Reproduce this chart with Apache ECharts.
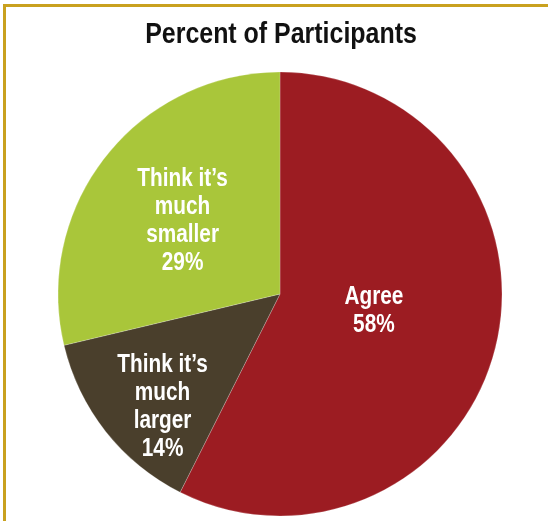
<!DOCTYPE html>
<html>
<head>
<meta charset="utf-8">
<script src="https://cdn.jsdelivr.net/npm/echarts@6/dist/echarts.min.js"></script>
<style>
  html, body { margin: 0; padding: 0; background: #fff; }
  #chart { width: 548px; height: 521px; }
</style>
</head>
<body>
<div id="chart"></div>
<script>
const categories = ['Agree', 'Think it\u2019s\nmuch\nlarger', 'Think it\u2019s\nmuch\nsmaller'];
const values = [58, 14, 29];
const colors = ['#9C1C22', '#4A3F2C', '#A9C63A'];

// nudge labels off the default mid-radius spot
const labelShift = [[-17, -10], [-28, 42], [-8, -2]];

const fontFamily = '"Liberation Sans", Arial, sans-serif';
const titleText = 'Percent of Participants';

const chart = echarts.init(document.getElementById('chart'));

chart.setOption({
  animation: false,
  title: {
    text: titleText,
    left: 276,
    textAlign: 'center',
    top: 15,
    textStyle: {
      fontFamily,
      fontWeight: 'bold',
      fontSize: 29,
      color: '#111'
    }
  },
  graphic: [
    { type: 'line', shape: { x1: 4.5, y1: 4, x2: 4.5, y2: 521 }, style: { stroke: '#C9A11F', lineWidth: 3 } },
    { type: 'line', shape: { x1: 3, y1: 5.5, x2: 548, y2: 5.5 }, style: { stroke: '#C9A11F', lineWidth: 3 } }
  ],
  series: [
    {
      type: 'pie',
      center: [280, 294],
      radius: [0, 222],
      startAngle: 90,
      clockwise: true,
      silent: true,
      itemStyle: { borderColor: 'rgba(255,255,255,0.35)', borderWidth: 0.6 },
      label: {
        position: 'inside',
        color: '#fff',
        fontFamily,
        fontWeight: 'bold',
        fontSize: 26,
        lineHeight: 28,
        align: 'center',
        formatter: function (p) { return p.name + '\n' + p.value + '%'; }
      },
      labelLayout: function (p) {
        const s = labelShift[p.dataIndex];
        return { dx: s[0], dy: s[1] };
      },
      labelLine: { show: false },
      data: categories.map(function (name, i) {
        return { name, value: values[i], itemStyle: { color: colors[i] } };
      })
    }
  ]
});

// no condensed font installed: squeeze each text line horizontally instead
const zr = chart.getZr();
zr.storage.getDisplayList(true).forEach(function (el) {
  if (el.type !== 'tspan' && el.type !== 'text') return;
  const r = el.getBoundingRect();
  const isTitle = el.style && el.style.text === titleText;
  el.originX = r.x + r.width / 2;
  el.originY = r.y + r.height / 2;
  el.scaleX = isTitle ? 0.86 : 0.8;
  el.markRedraw();
});
zr.refreshImmediately();
</script>
</body>
</html>
